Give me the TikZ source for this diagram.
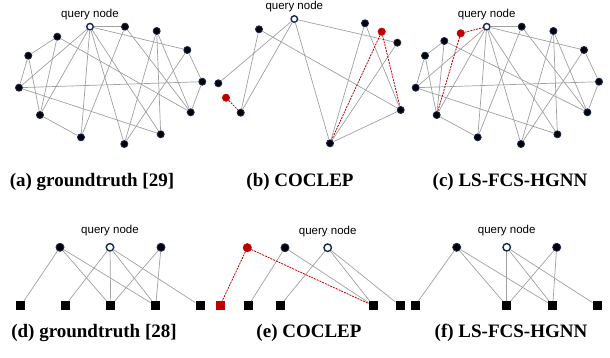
\documentclass[tikz,border=0pt]{standalone}
\usepackage{fontspec}
\setmainfont{Liberation Serif}
\newfontfamily\qfont{Liberation Sans}
\usetikzlibrary{positioning}

\definecolor{navy}{RGB}{22,40,80}
\definecolor{cred}{RGB}{192,0,0}
\definecolor{egray}{RGB}{160,160,160}

\tikzset{
	vtx/.style={circle, fill=black, draw=navy, line width=0.9pt, inner sep=0pt, minimum size=7pt},
	bvtx/.style={vtx, minimum size=8pt},
	qvtx/.style={circle, fill=white, draw=navy, line width=1.4pt, inner sep=0pt, minimum size=6.5pt},
	rvtx/.style={circle, fill=cred, draw=cred, inner sep=0pt, minimum size=7.5pt},
	sqr/.style={rectangle, fill=black, inner sep=0pt, minimum size=9pt},
	rsqr/.style={sqr, fill=cred},
	qlbl/.style={font=\qfont\fontsize{11.5}{12}\selectfont, inner sep=0pt},
	capt/.style={font=\bfseries\fontsize{19}{20}\selectfont, inner sep=0pt, anchor=base},
	edge/.style={draw=egray, line width=0.7pt},
	redge/.style={draw=cred, dashed, dash pattern=on 2pt off 1pt, line width=0.8pt},
}

\begin{document}
\begin{tikzpicture}[x=1pt, y=-1pt]
			%%%%% START %%%%%
			\useasboundingbox (0, 0) rectangle (610, 358);
			
			%%%%% (a) %%%%%
			\node[qvtx, label={[qlbl, label distance=2.5pt]above:query node}] (aq) at (90, 26.7) {};
			\node[vtx] (a1) at (125, 26.7) {};
			\node[vtx] (a2) at (156.7, 31) {};
			\node[vtx] (a3) at (187.3, 50) {};
			\node[vtx] (a4) at (202.3, 81.7) {};
			\node[vtx] (a5) at (190.7, 112.3) {};
			\node[vtx] (a6) at (160.7, 134.3) {};
			\node[vtx] (a7) at (124.3, 144) {};
			\node[vtx] (a8) at (81, 137.3) {};
			\node[vtx] (a9) at (40, 115) {};
			\node[vtx] (a10) at (19, 87.7) {};
			\node[vtx] (a11) at (28.3, 55.7) {};
			\node[vtx] (a12) at (57.3, 36.7) {};
			
			\begin{scope}[on background layer/.try]
			\draw[edge] (aq) -- (a1);
			\draw[edge] (aq) -- (a3);
			\draw[edge] (aq) -- (a10);
			\draw[edge] (aq) -- (a9);
			\draw[edge] (aq) -- (a8);
			\draw[edge] (aq) -- (a7);
			\draw[edge] (aq) -- (a6);
			\draw[edge] (a1) -- (a8);
			\draw[edge] (a1) -- (a5);
			\draw[edge] (a2) -- (a7);
			\draw[edge] (a2) -- (a5);
			\draw[edge] (a2) -- (a6);
			\draw[edge] (a3) -- (a4);
			\draw[edge] (a3) -- (a7);
			\draw[edge] (a4) -- (a10);
			\draw[edge] (a4) -- (a5);
			\draw[edge] (a5) -- (a12);
			\draw[edge] (a6) -- (a10);
			\draw[edge] (a8) -- (a9);
			\draw[edge] (a9) -- (a11);
			\draw[edge] (a9) -- (a12);
			\draw[edge] (a10) -- (a11);
			\draw[edge] (a11) -- (a12);
			\end{scope}
			
			%%%%% (b) %%%%%
			\node[qvtx, label={[qlbl, label distance=2.5pt]above:query node}] (bq) at (294.3, 19) {};
			\node[vtx] (b1) at (259, 29.3) {};
			\node[vtx] (b2) at (365, 23.3) {};
			\node[rvtx] (br1) at (381.7, 31.7) {};
			\node[vtx] (b3) at (397.3, 42.7) {};
			\node[vtx] (b4) at (400.7, 110) {};
			\node[vtx] (b5) at (330, 143.3) {};
			\node[vtx] (b6) at (240.7, 112.7) {};
			\node[rvtx] (br2) at (226, 97.7) {};
			\node[vtx] (b7) at (218.3, 83.3) {};
			
			\draw[edge] (bq) -- (b3);
			\draw[edge] (bq) -- (b7);
			\draw[edge] (bq) -- (b6);
			\draw[edge] (bq) -- (b5);
			\draw[edge] (b1) -- (b6);
			\draw[edge] (b1) -- (b4);
			\draw[edge] (b2) -- (b5);
			\draw[edge] (b2) -- (b4);
			\draw[edge] (b3) -- (b5);
			\draw[edge] (b5) -- (b4);
			\draw[redge] (br2) -- (b6);
			\draw[redge] (br1) -- (b5);
			\draw[redge] (br1) -- (b4);
			
			%%%%% (c) %%%%%
			\node[qvtx, label={[qlbl, label distance=2.5pt]above:query node}] (cq) at (486.7, 26.7) {};
			\node[vtx] (c1) at (521.7, 26.7) {};
			\node[vtx] (c2) at (553.4, 31) {};
			\node[vtx] (c3) at (584, 50) {};
			\node[vtx] (c4) at (599, 81.7) {};
			\node[vtx] (c5) at (587.4, 112.3) {};
			\node[vtx] (c6) at (557.4, 134.3) {};
			\node[vtx] (c7) at (521, 144) {};
			\node[vtx] (c8) at (477.7, 137.3) {};
			\node[vtx] (c9) at (436.7, 115) {};
			\node[vtx] (c10) at (415.7, 87.7) {};
			\node[vtx] (c11) at (425, 55.7) {};
			\node[vtx] (c12) at (444.3, 41) {};
			\node[rvtx] (cr) at (460.7, 33.3) {};
			
			\draw[edge] (cq) -- (c1);
			\draw[edge] (cq) -- (c3);
			\draw[edge] (cq) -- (c10);
			\draw[edge] (cq) -- (c9);
			\draw[edge] (cq) -- (c8);
			\draw[edge] (cq) -- (c7);
			\draw[edge] (cq) -- (c6);
			\draw[edge] (c1) -- (c8);
			\draw[edge] (c1) -- (c5);
			\draw[edge] (c2) -- (c7);
			\draw[edge] (c2) -- (c5);
			\draw[edge] (c2) -- (c6);
			\draw[edge] (c3) -- (c4);
			\draw[edge] (c3) -- (c7);
			\draw[edge] (c4) -- (c10);
			\draw[edge] (c4) -- (c5);
			\draw[edge] (c5) -- (c12);
			\draw[edge] (c6) -- (c10);
			\draw[edge] (c8) -- (c9);
			\draw[edge] (c9) -- (c11);
			\draw[edge] (c9) -- (c12);
			\draw[edge] (c10) -- (c11);
			\draw[edge] (c11) -- (c12);
			\draw[redge] (cr) -- (cq);
			\draw[redge] (cr) -- (c9);
			
			%%%%% (d) %%%%%
			\node[bvtx] (d1) at (60, 247.3) {};
			\node[qvtx, minimum size=7.5pt, label={[qlbl, label distance=6.5pt]above:query node}] (dq) at (110, 247.3) {};
			\node[bvtx] (d2) at (161, 247.3) {};
			\node[sqr] (s1) at (20.7, 305.7) {};
			\node[sqr] (s2) at (65, 305.7) {};
			\node[sqr] (s3) at (110.7, 305.7) {};
			\node[sqr] (s4) at (155.7, 305.7) {};
			\node[sqr] (s5) at (200, 305.7) {};
			
			\draw[edge] (d1) -- (s1);
			\draw[edge] (d1) -- (s3);
			\draw[edge] (d1) -- (s4);
			\draw[edge] (dq) -- (s2);
			\draw[edge] (dq) -- (s3);
			\draw[edge] (dq) -- (s4);
			\draw[edge] (dq) -- (s5);
			\draw[edge] (d2) -- (s3);
			\draw[edge] (d2) -- (s4);
			
			%%%%% (e) %%%%%
			\node[rvtx, minimum size=8.5pt] (er) at (247.3, 247.7) {};
			\node[bvtx] (e1) at (285, 247.7) {};
			\node[qvtx, minimum size=7.5pt, label={[qlbl, label distance=6.5pt]above:query node}] (eq) at (327.7, 247.7) {};
			\node[rsqr] (tr) at (220, 305.7) {};
			\node[sqr] (t1) at (248.3, 305.7) {};
			\node[sqr] (t2) at (280, 305.7) {};
			\node[sqr] (t3) at (373.3, 305.7) {};
			\node[sqr] (t4) at (400, 305.7) {};
			
			\draw[edge] (e1) -- (t1);
			\draw[edge] (e1) -- (t3);
			\draw[edge] (eq) -- (t2);
			\draw[edge] (eq) -- (t3);
			\draw[edge] (eq) -- (t4);
			\draw[redge] (er) -- (tr);
			\draw[redge] (er) -- (t3);
			
			%%%%% (f) %%%%%
			\node[bvtx] (f1) at (456.7, 247.3) {};
			\node[qvtx, minimum size=7.5pt, label={[qlbl, label distance=6.5pt]above:query node}] (fq) at (506.7, 247.3) {};
			\node[bvtx] (f2) at (556.7, 247.3) {};
			\node[sqr] (u1) at (415, 305.7) {};
			\node[sqr] (u2) at (506.7, 305.7) {};
			\node[sqr] (u3) at (552.7, 305.7) {};
			\node[sqr] (u4) at (597.3, 305.7) {};
			
			\draw[edge] (f1) -- (u1);
			\draw[edge] (f1) -- (u2);
			\draw[edge] (f1) -- (u3);
			\draw[edge] (fq) -- (u2);
			\draw[edge] (fq) -- (u3);
			\draw[edge] (fq) -- (u4);
			\draw[edge] (f2) -- (u2);
			\draw[edge] (f2) -- (u3);
			
			%%%%% captions %%%%%
			\node[capt] (capa) at (92, 186) {(a) groundtruth [29]};
			\node[capt] (capb) at (300, 186) {(b) COCLEP};
			\node[capt] (capc) at (510, 186) {(c) LS-FCS-HGNN};
			\node[capt] (capd) at (94, 337) {(d) groundtruth [28]};
			\node[capt] (cape) at (309, 337) {(e) COCLEP};
			\node[capt] (capf) at (511, 337) {(f) LS-FCS-HGNN};
			%%%%% END %%%%%
		\end{tikzpicture}
\end{document}
